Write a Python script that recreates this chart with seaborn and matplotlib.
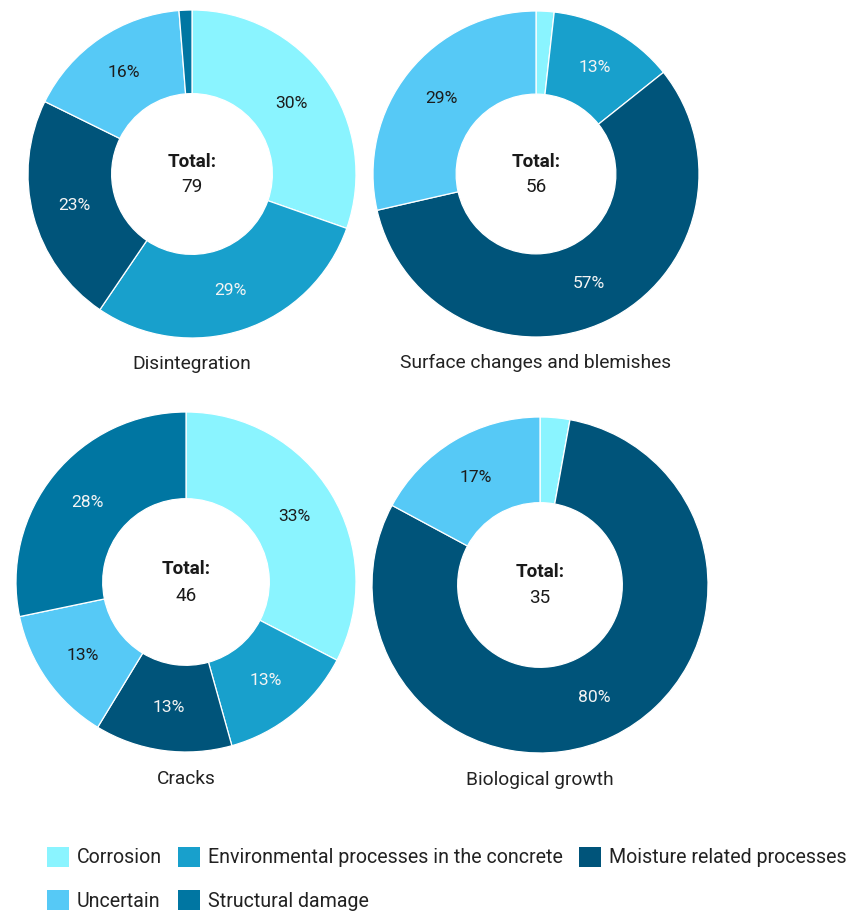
import matplotlib
matplotlib.use("Agg")
import matplotlib.pyplot as plt
from matplotlib.patches import Patch
import seaborn as sns

# ---------------- data ----------------
categories = ["Corrosion", "Environmental processes in the concrete",
              "Moisture related processes", "Uncertain", "Structural damage"]
colors = ["#8AF4FF", "#18A0CC", "#00547A", "#56C9F6", "#0076A2"]
label_colors = ["#1c1c1c", "#f4f4f4", "#f4f4f4", "#1c1c1c", "#f4f4f4"]

titles = ["Disintegration", "Surface changes and blemishes", "Cracks", "Biological growth"]
disintegration = [24, 23, 18, 13, 1]
surface_changes = [1, 7, 32, 16, 0]
cracks = [15, 6, 6, 6, 13]
biological_growth = [1, 0, 28, 6, 0]
series = [disintegration, surface_changes, cracks, biological_growth]

# ---------------- style ----------------
sns.set_theme(style="white")
plt.rcParams["font.family"] = ["Roboto", "DejaVu Sans"]
palette = sns.color_palette(colors)

W, H = 858, 913
fig = plt.figure(figsize=(W / 100, H / 100), dpi=100)
fig.patch.set_facecolor("white")

# pie centres / radii in pixels (layout only)
layout = [(192, 174, 164), (536, 174, 163), (186, 582, 170), (540, 585, 168)]

for (cx, cy, r), vals, title in zip(layout, series, titles):
    ax = fig.add_axes([(cx - r) / W, (H - cy - r) / H, 2 * r / W, 2 * r / H])
    idx = [i for i, v in enumerate(vals) if v > 0]
    v = [vals[i] for i in idx]
    cols = [palette[i] for i in idx]
    total = sum(v)

    def fmt(p):
        return f"{int(p + 0.5)}%" if p >= 5 else ""

    wedges, texts, autotexts = ax.pie(
        v, colors=cols, startangle=90, counterclock=False, radius=1.0,
        wedgeprops=dict(width=0.51, edgecolor="white", linewidth=0.9),
        autopct=fmt, pctdistance=0.745,
        textprops=dict(fontsize=12.6),
    )
    for t, i in zip(autotexts, idx):
        t.set_color(label_colors[i])
    ax.set_xlim(-1, 1)
    ax.set_ylim(-1, 1)
    ax.set_axis_off()
    ax.text(0, 0.075, "Total:", ha="center", va="center", fontsize=13.6,
            fontweight="bold", color="#1a1a1a")
    ax.text(0, -0.08, f"{total}", ha="center", va="center", fontsize=13.6,
            color="#1a1a1a")
    ax.text(0, -1.16, title, ha="center", va="center", fontsize=13.8,
            color="#222222")

# legend (column-major order so that rows read like the reference)
handles = [Patch(facecolor=c, edgecolor="none") for c in palette]
order = [0, 3, 1, 4, 2]
fs = 14.1
fspx = fs * 100 / 72
leg = fig.legend([handles[i] for i in order], [categories[i] for i in order],
                 ncol=3, loc="upper left",
                 bbox_to_anchor=(47 / W, 1 - 847 / H),
                 frameon=False, borderpad=0, borderaxespad=0,
                 fontsize=fs,
                 handlelength=22 / fspx, handleheight=23 / fspx,
                 handletextpad=8 / fspx, columnspacing=16 / fspx,
                 labelspacing=23 / fspx)
for t in leg.get_texts():
    t.set_color("#222222")

fig.savefig("out.png", dpi=100, facecolor="white")
